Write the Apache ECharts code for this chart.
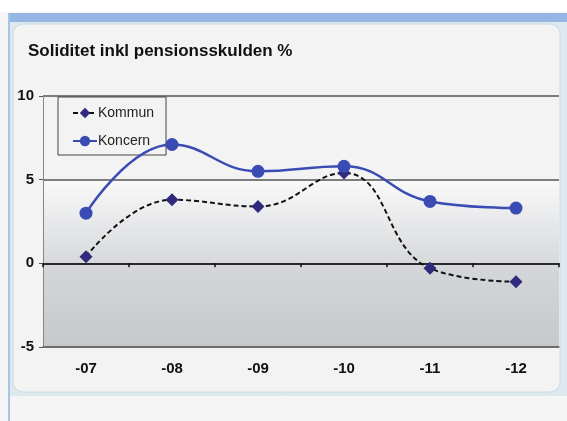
<!DOCTYPE html>
<html>
<head>
<meta charset="utf-8">
<script src="https://cdn.jsdelivr.net/npm/echarts@6/dist/echarts.min.js"></script>
<style>
html,body{margin:0;padding:0;background:#f5f5f5;}
#chart{width:567px;height:421px;}
</style>
</head>
<body>
<div id="chart"></div>
<script>
// år
var years = ['-07', '-08', '-09', '-10', '-11', '-12'];
// serier
var kommun = [0.4, 3.8, 3.4, 5.4, -0.3, -1.1];
var koncern = [3.0, 7.1, 5.5, 5.8, 3.7, 3.3];
// y-axel
var yMin = -5, yMax = 10, yStep = 5;

var chart = echarts.init(document.getElementById('chart'));

var option = {
    backgroundColor: '#f5f5f5',
    animation: false,
    textStyle: { fontFamily: 'Liberation Sans, Arial, sans-serif' },
    graphic: [
        // ram runt diagrammet
        { type: 'rect', z: -10, shape: { x: 0, y: 0, width: 567, height: 12 }, style: { fill: '#ffffff' } },
        { type: 'rect', z: -10, shape: { x: 9, y: 13, width: 558, height: 9 }, style: { fill: '#93b6e2' } },
        { type: 'rect', z: -10, shape: { x: 8, y: 13, width: 2, height: 408 }, style: { fill: '#a9c4e8' } },
        { type: 'rect', z: -9, shape: { x: 10, y: 22, width: 557, height: 374 }, style: { fill: '#dde9ee' } },
        { type: 'rect', z: -8, shape: { x: 13, y: 24, width: 547, height: 368, r: 10 }, style: { fill: '#f3f3f3', stroke: '#c9dce6', lineWidth: 1 } },
        { type: 'rect', z: -9, shape: { x: 10, y: 396, width: 557, height: 25 }, style: { fill: '#f5f5f5' } }
    ],
    title: {
        text: 'Soliditet inkl pensionsskulden %',
        left: 23,
        top: 38,
        textStyle: { fontSize: 17, fontWeight: 'bold', color: '#111' }
    },
    legend: {
        orient: 'vertical',
        left: 58,
        top: 97,
        padding: [9, 12, 7, 14],
        itemGap: 14,
        itemWidth: 24,
        itemHeight: 13,
        backgroundColor: '#f3f3f3',
        borderColor: '#444',
        borderWidth: 1,
        textStyle: { fontSize: 14, color: '#222', padding: [0, 0, 0, -4] },
        data: ['Kommun', 'Koncern']
    },
    grid: {
        left: 43,
        right: 8,
        top: 96,
        bottom: 74,
        show: true,
        borderWidth: 0,
        backgroundColor: new echarts.graphic.LinearGradient(0, 0, 0, 1, [
            { offset: 0, color: '#f3f3f3' },
            { offset: 0.332, color: '#f3f3f3' },
            { offset: 0.336, color: '#f9f9f9' },
            { offset: 0.7, color: '#d3d5d8' },
            { offset: 1, color: '#c6c9cc' }
        ])
    },
    xAxis: [
        {
            type: 'category',
            data: years,
            position: 'bottom',
            axisLine: { onZero: false, lineStyle: { color: '#6a6a6a', width: 1.5 } },
            axisTick: { show: false },
            axisLabel: { fontSize: 15, fontWeight: 'bold', color: '#111', margin: 14 }
        },
        {
            type: 'category',
            data: years,
            position: 'top',
            axisLine: { onZero: true, lineStyle: { color: '#111', width: 1.5 } },
            axisTick: { show: true, inside: true, length: 4, lineStyle: { color: '#111', width: 1.5 } },
            axisLabel: { show: false }
        }
    ],
    yAxis: {
        type: 'value',
        min: yMin,
        max: yMax,
        interval: yStep,
        axisLine: { show: true, lineStyle: { color: '#888', width: 1 } },
        axisTick: { show: true, length: 4, lineStyle: { color: '#555' } },
        axisLabel: { fontSize: 15, fontWeight: 'bold', color: '#111', margin: 9 },
        splitLine: { show: true, lineStyle: { color: '#555', width: 1.5 } }
    },
    series: [
        {
            name: 'Kommun',
            type: 'line',
            data: kommun,
            smooth: 0.45,
            symbol: 'diamond',
            symbolSize: 13,
            z: 3,
            itemStyle: { color: '#2f2a7c' },
            lineStyle: { color: '#111', width: 2, type: [5, 3] }
        },
        {
            name: 'Koncern',
            type: 'line',
            data: koncern,
            smooth: 0.45,
            symbol: 'circle',
            symbolSize: 13,
            z: 4,
            itemStyle: { color: '#3a4cb3' },
            lineStyle: { color: '#3a4cb3', width: 2.5 }
        }
    ]
};

chart.setOption(option);
</script>
</body>
</html>
